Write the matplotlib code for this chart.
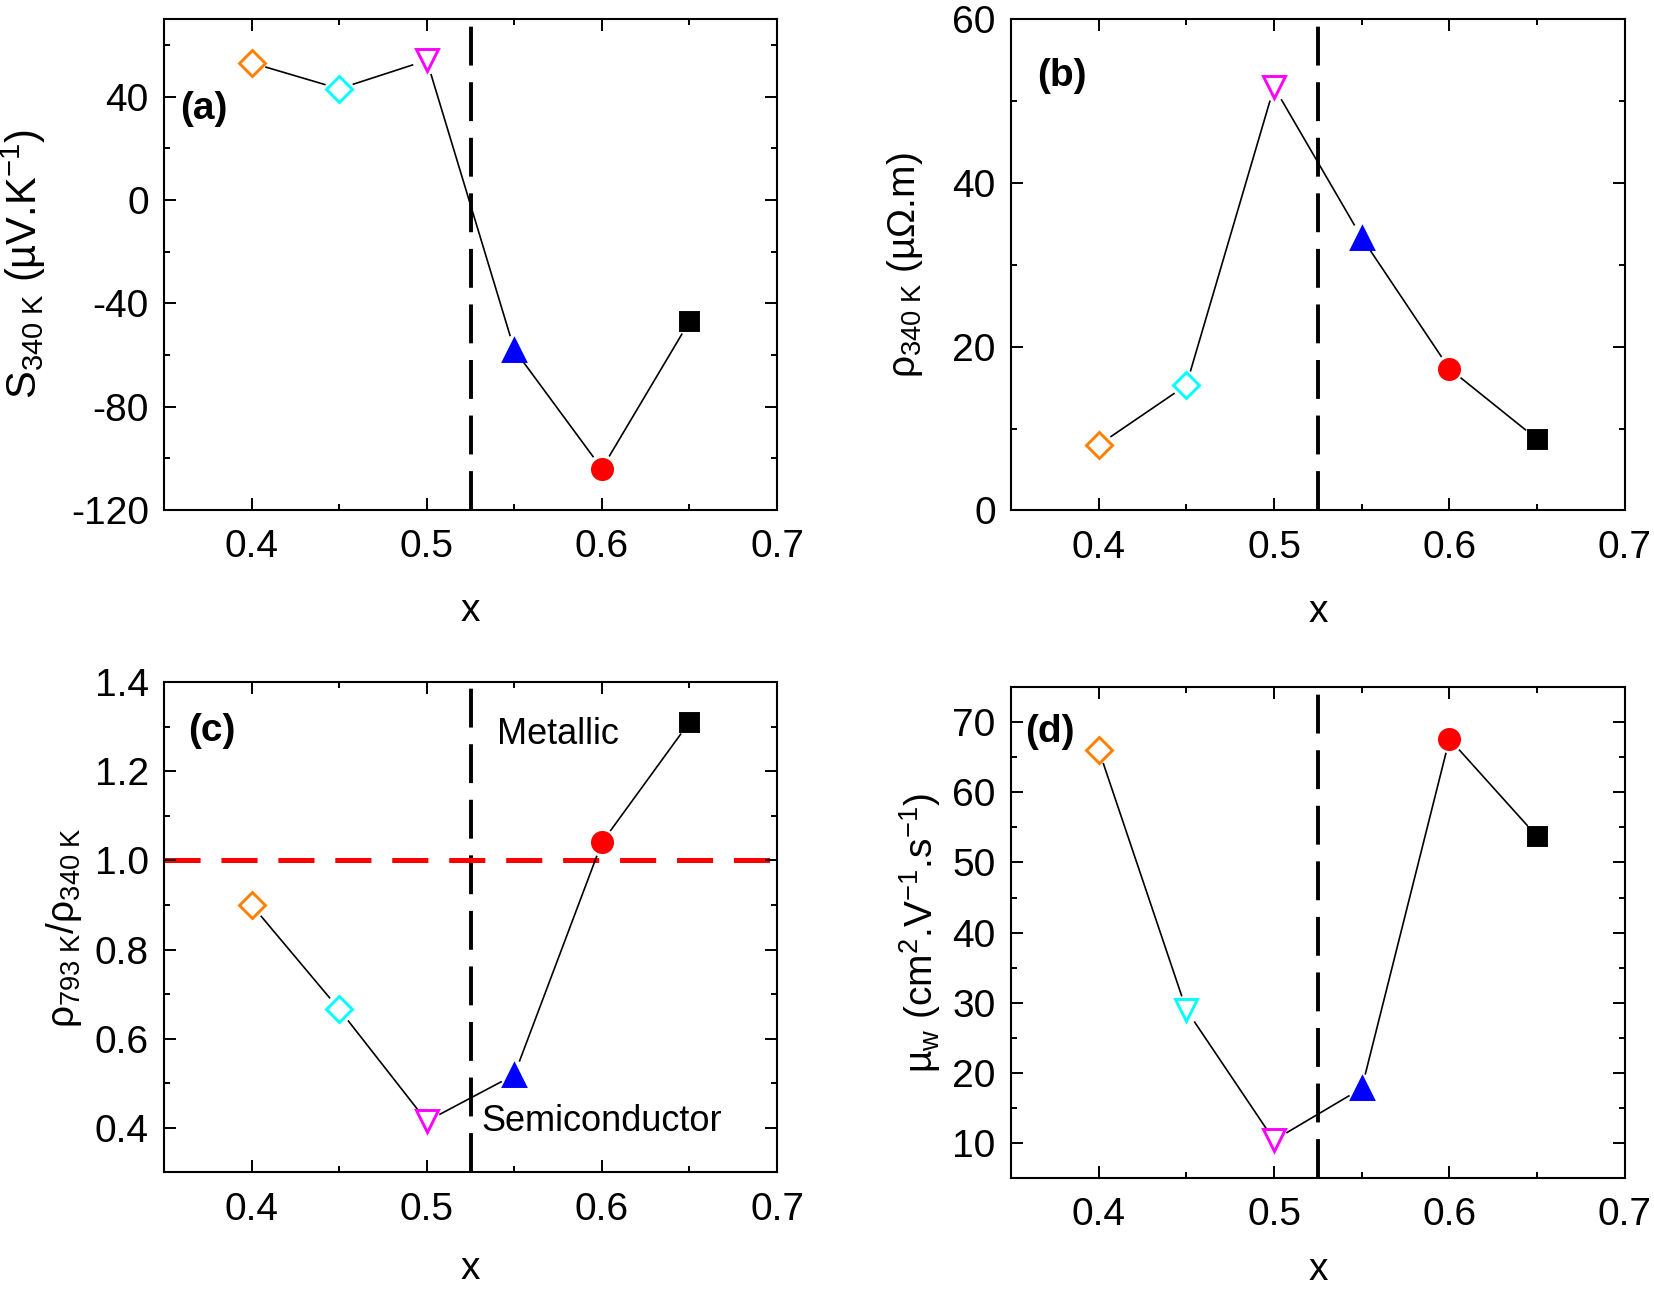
import numpy as np
import matplotlib
matplotlib.use("Agg")
import matplotlib.pyplot as plt
from matplotlib.ticker import MultipleLocator, FixedLocator

plt.rcParams["font.family"] = ["Liberation Sans", "DejaVu Sans"]
plt.rcParams["mathtext.fontset"] = "custom"
plt.rcParams["mathtext.rm"] = "Liberation Sans"
plt.rcParams["mathtext.it"] = "Liberation Sans:italic"
plt.rcParams["mathtext.bf"] = "Liberation Sans:bold"
plt.rcParams["lines.scale_dashes"] = False
plt.rcParams["axes.unicode_minus"] = False

# composition x, shared by all four panels
x_vals = [0.40, 0.45, 0.50, 0.55, 0.60, 0.65]

# (a) Seebeck coefficient at 340 K (uV/K)
seebeck = [53.0, 43.0, 54.0, -58.0, -104.0, -47.0]
# (b) resistivity at 340 K (uOhm.m)
rho_340 = [8.0, 15.3, 51.7, 33.3, 17.3, 8.7]
# (c) resistivity ratio rho(793 K)/rho(340 K)
rho_ratio = [0.90, 0.666, 0.415, 0.519, 1.04, 1.31]
# (d) weighted mobility (cm2/V/s)
mu_w = [66.1, 29.0, 10.4, 17.8, 67.6, 53.7]

point_colors = ["#FF8000", "#00FFFF", "#FF00FF", "#0000FF", "#FF0000", "#000000"]
point_filled = [False, False, False, True, True, True]
markers_abc = ["D", "D", "v", "^", "o", "s"]
markers_d = ["D", "v", "v", "^", "o", "s"]
marker_sizes = {"D": 13.5, "v": 15.5, "^": 15.5, "o": 14.5, "s": 12.5}

x_boundary = 0.525

fig = plt.figure(figsize=(16.54, 12.93), dpi=100)

positions = {
    "a": [0.0992, 0.6056, 0.3706, 0.3797],
    "b": [0.6112, 0.6052, 0.3712, 0.3801],
    "c": [0.0992, 0.0932, 0.3706, 0.3794],
    "d": [0.6112, 0.0889, 0.3712, 0.3797],
}


def style_axes(ax, ylim, ymajor, yminor, yfmt=None, xlabel_y=-0.17):
    ax.set_xlim(0.35, 0.7)
    ax.set_ylim(*ylim)
    ax.xaxis.set_major_locator(FixedLocator([0.4, 0.5, 0.6, 0.7]))
    ax.xaxis.set_minor_locator(MultipleLocator(0.05))
    ax.yaxis.set_major_locator(MultipleLocator(ymajor))
    ax.yaxis.set_minor_locator(MultipleLocator(yminor))
    if yfmt:
        ax.yaxis.set_major_formatter(plt.FormatStrFormatter(yfmt))
    ax.tick_params(which="both", direction="in", top=True, right=True, width=1.4)
    ax.tick_params(which="major", length=8.5, labelsize=28)
    ax.tick_params(which="minor", length=4.5)
    ax.tick_params(axis="x", which="major", pad=14)
    ax.tick_params(axis="y", which="major", pad=11)
    for sp in ax.spines.values():
        sp.set_linewidth(1.5)
    ax.set_xlabel("x", fontsize=28)
    ax.xaxis.set_label_coords(0.5, xlabel_y)
    ax.axvline(x_boundary, color="black", lw=2.8, dashes=(28, 12), zorder=1)


def draw_series(ax, ys, markers, gap_px=15):
    # Origin-style links that stop short of the symbols
    pts = ax.transData.transform(np.column_stack([x_vals, ys]))
    inv = ax.transData.inverted()
    for p0, p1 in zip(pts[:-1], pts[1:]):
        d = p1 - p0
        u = d / np.hypot(*d)
        seg = inv.transform([p0 + u * gap_px, p1 - u * gap_px])
        ax.plot(seg[:, 0], seg[:, 1], color="black", lw=1.2, zorder=2)
    for xv, yv, m, c, filled in zip(x_vals, ys, markers, point_colors, point_filled):
        ax.plot(xv, yv, marker=m, ms=marker_sizes[m], mec=c,
                mfc=c if filled else "white", mew=2.1, zorder=3, clip_on=False)


def panel_tag(ax, tag, xy):
    ax.text(xy[0], xy[1], tag, fontsize=28, fontweight="bold",
            ha="left", va="center")


# (a)
ax_a = fig.add_axes(positions["a"])
style_axes(ax_a, (-120, 70), 40, 20)
draw_series(ax_a, seebeck, markers_abc)
ax_a.set_ylabel(r"S$_{\mathrm{340\ K}}$ (µV.K$^{\mathrm{-1}}$)", fontsize=30)
ax_a.yaxis.set_label_coords(-0.19, 0.5)
panel_tag(ax_a, "(a)", (0.359, 35))

# (b)
ax_b = fig.add_axes(positions["b"])
style_axes(ax_b, (0, 60), 20, 10)
draw_series(ax_b, rho_340, markers_abc)
ax_b.set_ylabel(r"ρ$_{\mathrm{340\ K}}$ (µΩ.m)", fontsize=28)
ax_b.yaxis.set_label_coords(-0.14, 0.5)
panel_tag(ax_b, "(b)", (0.365, 53))

# (c)
ax_c = fig.add_axes(positions["c"])
style_axes(ax_c, (0.3, 1.4), 0.2, 0.1, "%.1f", xlabel_y=-0.16)
ax_c.axhline(1.0, color="#FF0000", lw=3.6, dashes=(26, 15), zorder=1)
draw_series(ax_c, rho_ratio, markers_abc)
ax_c.set_ylabel(r"ρ$_{\mathrm{793\ K}}$/ρ$_{\mathrm{340\ K}}$", fontsize=28)
ax_c.yaxis.set_label_coords(-0.13, 0.5)
panel_tag(ax_c, "(c)", (0.364, 1.289))
ax_c.text(0.540, 1.281, "Metallic", fontsize=26, ha="left", va="center")
ax_c.text(0.531, 0.415, "Semiconductor", fontsize=26, ha="left", va="center")

# (d)
ax_d = fig.add_axes(positions["d"])
style_axes(ax_d, (5, 75), 10, 5, xlabel_y=-0.15)
draw_series(ax_d, mu_w, markers_d)
ax_d.set_ylabel(r"µ$_{\mathrm{w}}$ (cm$^{\mathrm{2}}$.V$^{\mathrm{-1}}$.s$^{\mathrm{-1}}$)",
                fontsize=28)
ax_d.yaxis.set_label_coords(-0.11, 0.5)
panel_tag(ax_d, "(d)", (0.358, 68.6))

fig.savefig("out.png", dpi=100)
